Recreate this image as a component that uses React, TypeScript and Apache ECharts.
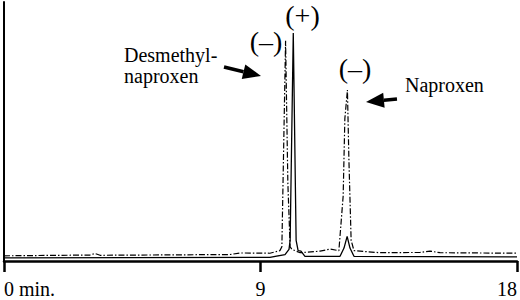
import React, { useEffect, useRef } from "react";
import * as echarts from "echarts";

// Retention time (min) and detector response (% of full scale)
const dashDotTimes = [0, 3.02, 3.19, 3.37, 7.93, 8.28, 9.33, 9.68, 9.75, 9.88, 9.96, 10.04, 10.1, 10.39, 11.09, 11.44, 11.75, 11.9, 11.96, 12.05, 12.1, 12.18, 12.28, 13.19, 14.6, 14.95, 15.3, 18];
const dashDotValues = [2.0, 2.3, 2.9, 2.2, 2.5, 3.1, 3.0, 4.0, 5.5, 85, 30, 5.5, 4.5, 3.2, 3.8, 4.6, 4.0, 25, 55, 66, 40, 8, 4.0, 3.2, 3.3, 3.8, 3.2, 3.0];

const solidTimes = [0, 9.33, 9.86, 10.0, 10.04, 10.15, 10.25, 10.32, 10.42, 10.56, 11.79, 11.93, 12.04, 12.14, 12.28, 18];
const solidValues = [1.2, 1.4, 2.5, 4.5, 8, 88, 8, 4, 3.8, 1.8, 1.8, 5, 9.5, 5, 1.8, 1.6];

const xTicks = [0, 9, 18];
const tickLabels = ["0 min.", "9", "18"];

const SERIF = "Liberation Serif";

function arrow(tail: [number, number], tip: [number, number], headLen: number, halfW: number) {
  const dx = tip[0] - tail[0];
  const dy = tip[1] - tail[1];
  const len = Math.sqrt(dx * dx + dy * dy);
  const ux = dx / len;
  const uy = dy / len;
  const bx = tip[0] - ux * headLen;
  const by = tip[1] - uy * headLen;
  const px = -uy;
  const py = ux;
  return [
    {
      type: "line",
      shape: { x1: tail[0], y1: tail[1], x2: bx, y2: by },
      style: { stroke: "#000", lineWidth: 3.5 },
    },
    {
      type: "polygon",
      shape: {
        points: [
          [tip[0], tip[1]],
          [bx + px * halfW, by + py * halfW],
          [bx - px * halfW, by - py * halfW],
        ],
      },
      style: { fill: "#000" },
    },
  ];
}

export default function App() {
  const ref = useRef<HTMLDivElement>(null);
  useEffect(() => {
    if (!ref.current) return;
    const chart = echarts.init(ref.current, null, { renderer: "svg" });
    const textEl = (x: number, y: number, text: string, size: number, align = "left") => ({
      type: "text",
      x,
      y,
      style: {
        text,
        fill: "#000",
        fontFamily: SERIF,
        fontSize: size,
        align,
        verticalAlign: "middle",
      },
    });
    chart.setOption({
      animation: false,
      backgroundColor: "#fff",
      grid: { left: 4, right: 3, top: 2, bottom: 39, containLabel: false },
      xAxis: {
        type: "value",
        min: 0,
        max: 18,
        interval: 9,
        axisLine: { show: true, lineStyle: { color: "#000", width: 2.5 } },
        axisTick: { show: true, length: 11, lineStyle: { color: "#000", width: 2.5 } },
        axisLabel: {
          color: "#000",
          fontFamily: SERIF,
          fontSize: 20,
          margin: 18,
          showMinLabel: true,
          showMaxLabel: true,
          alignMinLabel: "left",
          alignMaxLabel: "right",
          formatter: (v: number) => {
            const i = xTicks.indexOf(v);
            return i >= 0 ? tickLabels[i] : "";
          },
        },
        splitLine: { show: false },
      },
      yAxis: {
        type: "value",
        min: 0,
        max: 100,
        axisLine: { show: true, lineStyle: { color: "#000", width: 2 } },
        axisTick: { show: false },
        axisLabel: { show: false },
        splitLine: { show: false },
      },
      series: [
        {
          type: "line",
          data: dashDotTimes.map((t, i) => [t, dashDotValues[i]]),
          showSymbol: false,
          lineStyle: { color: "#000", width: 1.2, type: [6, 2, 1.5, 2] },
          z: 2,
        },
        {
          type: "line",
          data: solidTimes.map((t, i) => [t, solidValues[i]]),
          showSymbol: false,
          lineStyle: { color: "#000", width: 1.3 },
          z: 3,
        },
      ],
      graphic: [
        textEl(266, 41, "(–)", 28, "center"),
        textEl(302.5, 15, "(+)", 28, "center"),
        textEl(355, 68, "(–)", 28, "center"),
        textEl(124, 55, "Desmethyl-", 20),
        textEl(124, 76, "naproxen", 20),
        textEl(405, 85, "Naproxen", 20),
        ...arrow([224, 67], [261, 76], 18, 7.5),
        ...arrow([397, 99], [366, 102], 18, 7.5),
      ],
    });
    return () => chart.dispose();
  }, []);
  return (
    <div
      ref={ref}
      style={{ position: "fixed", left: 0, top: 0, width: 520, height: 300, background: "#fff" }}
    />
  );
}
